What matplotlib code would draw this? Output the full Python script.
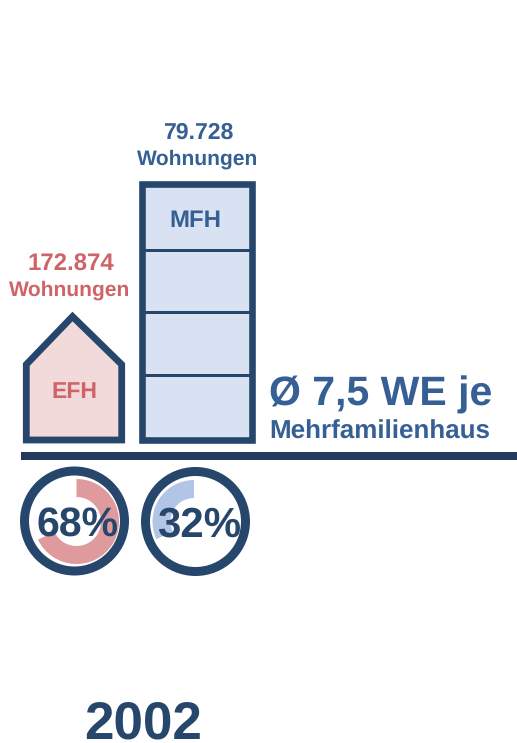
import matplotlib
matplotlib.use("Agg")
import matplotlib.pyplot as plt
from matplotlib.patches import Circle, Polygon, Rectangle, Wedge

plt.rcParams['font.family'] = ['Liberation Sans', 'DejaVu Sans']
plt.rcParams['text.hinting'] = 'none'
plt.rcParams['text.hinting_factor'] = 1

categories = ["EFH", "MFH"]
units = ["172.874", "79.728"]
shares = [68, 32]
unit_label = "Wohnungen"
mfh_floors = 4
avg_title = "Ø 7,5 WE je"
avg_sub = "Mehrfamilienhaus"
year = "2002"

dark = "#27466c"
line_dark = "#233c5e"
red = "#cf6468"
blue = "#366095"
red_fill = "#f2dada"
blue_fill = "#d9e2f2"
red_ring = "#de9a9c"
blue_ring = "#b3c5e7"

fig = plt.figure(figsize=(5.17, 7.43), dpi=100)
ax = fig.add_axes([0, 0, 1, 1])
ax.set_xlim(0, 517)
ax.set_ylim(743, 0)
ax.axis("off")


def px(n):
    return n * 0.72


# house
house = [(26.3, 440), (26.3, 364.5), (72.5, 316.5), (121.7, 364.5), (121.7, 440)]
ax.add_patch(Polygon(house, closed=True, fc=red_fill, ec=dark, lw=px(6.8), joinstyle="miter"))

# apartment block
top, bottom = 184.3, 439.6
ax.add_patch(Rectangle((141.5, top), 110.7, bottom - top, fc=blue_fill, ec=dark, lw=px(6.6), joinstyle="miter"))
for y in [250, 312, 375][:mfh_floors - 1]:
    ax.plot([141.5, 252.2], [y, y], color=dark, lw=px(3), solid_capstyle="butt")

# baseline
ax.add_patch(Rectangle((21, 451.5), 496, 8.5, fc=line_dark, ec="none"))

# rings
ax.add_patch(Circle((74.5, 521), 50, fc="white", ec=dark, lw=px(9)))
ax.add_patch(Circle((195.5, 521.5), 50, fc="white", ec=dark, lw=px(9)))

# share wedges, y axis is flipped so angles run clockwise
ang = shares[0] * 3.6
ax.add_patch(Wedge((76.5, 521.5), 42.5, -90, -90 + ang, width=18, fc=red_ring, ec="none"))
ang = shares[1] * 3.6
ax.add_patch(Wedge((194, 521.5), 41.5, -90 - ang, -90, width=18, fc=blue_ring, ec="none"))

# texts
bold = dict(fontweight="bold", ha="center", va="baseline")
ax.text(198.5, 139, units[1], color=blue, fontsize=16.8, **bold)
ax.text(198, 165, unit_label, color=blue, fontsize=14.8, **bold)
ax.text(70.5, 270.5, units[0], color=red, fontsize=17, **bold)
ax.text(70, 296, unit_label, color=red, fontsize=14.8, **bold)
ax.text(195.5, 227, categories[1], color=blue, fontsize=17, **bold)
ax.text(74.5, 398, categories[0], color=red, fontsize=16.7, **bold)
ax.text(77.5, 537, f"{shares[0]}%", color=dark, fontsize=29.8, **bold)
ax.text(199, 537, f"{shares[1]}%", color=dark, fontsize=30, **bold)
ax.text(269, 405, avg_title, color=blue, fontsize=29.8, fontweight="bold", va="baseline")
ax.text(269, 439, avg_sub, color=blue, fontsize=19, fontweight="bold", va="baseline")
ax.text(143, 738, year, color=dark, fontsize=38, **bold)

fig.savefig("out.png", dpi=100)
